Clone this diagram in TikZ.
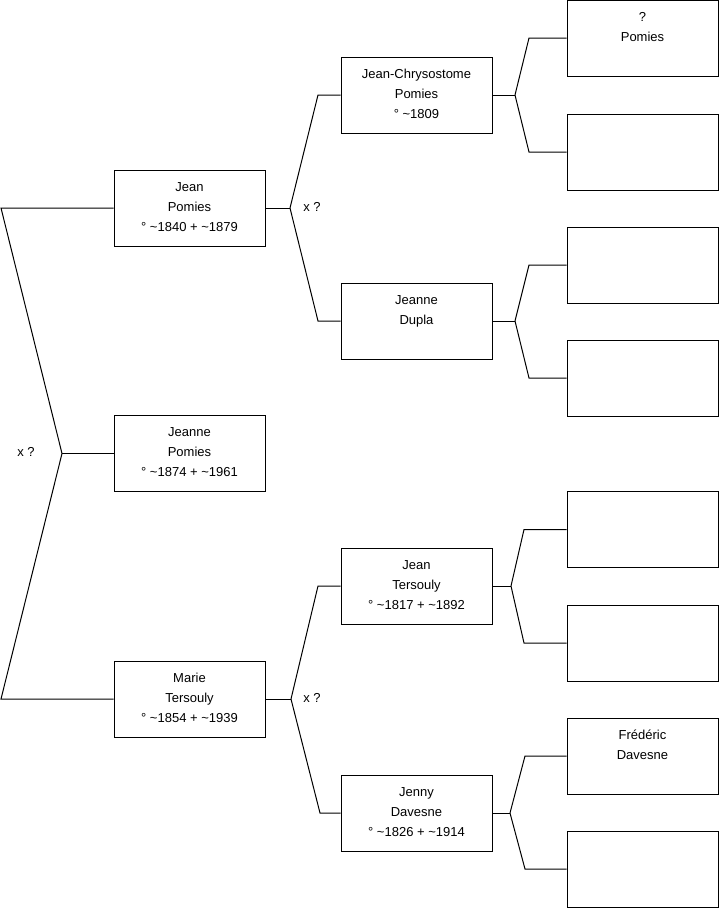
\documentclass[tikz,border=0pt]{standalone}
\usepackage{fontspec}
\setmainfont{Liberation Sans}
\newcommand{\fiche}[1]{\parbox[c][64pt][t]{145pt}{\centering\rule{0pt}{15pt}#1}}
\tikzset{
  fiche/.style={draw, rectangle, minimum width=151pt, minimum height=76pt,
    inner sep=0pt, font=\fontsize{13}{20}\selectfont},
  union/.style={font=\fontsize{13}{14}\selectfont, inner sep=0pt}
}
\begin{document}
\begin{tikzpicture}[x=1pt, y=-1pt, line width=1pt]
  \useasboundingbox (0,0) rectangle (719,908);
  % generation 0 and 1
  \node[fiche] (p1) at (189.5,453.5) {\fiche{Jeanne\\Pomies\\° \textasciitilde1874 + \textasciitilde1961}};
  \node[fiche] (p2) at (189.5,208) {\fiche{Jean\\Pomies\\° \textasciitilde1840 + \textasciitilde1879}};
  \node[fiche] (p3) at (189.5,699) {\fiche{Marie\\Tersouly\\° \textasciitilde1854 + \textasciitilde1939}};
  % generation 2
  \node[fiche] (p4) at (416.5,95) {\fiche{Jean-Chrysostome\\Pomies\\° \textasciitilde1809}};
  \node[fiche] (p5) at (416.5,321) {\fiche{Jeanne\\Dupla}};
  \node[fiche] (p6) at (416.5,586) {\fiche{Jean\\Tersouly\\° \textasciitilde1817 + \textasciitilde1892}};
  \node[fiche] (p7) at (416.5,813) {\fiche{Jenny\\Davesne\\° \textasciitilde1826 + \textasciitilde1914}};
  % generation 3
  \node[fiche] (p8) at (642.5,38) {\fiche{?\\Pomies}};
  \node[fiche] (p9) at (642.5,152) {};
  \node[fiche] (p10) at (642.5,265) {};
  \node[fiche] (p11) at (642.5,378) {};
  \node[fiche] (p12) at (642.5,529.5) {};
  \node[fiche] (p13) at (642.5,643) {};
  \node[fiche] (p14) at (642.5,756) {\fiche{Frédéric\\Davesne}};
  \node[fiche] (p15) at (642.5,869) {};
  % unions
  \node[union] (u1) at (26,452) {x ?};
  \node[union] (u2) at (312,207) {x ?};
  \node[union] (u3) at (312,698) {x ?};
  % forks
  \coordinate (f1) at (62,453.5);
  \coordinate (e2) at (1,208);
  \coordinate (e3) at (1,699);
  \coordinate (f2) at (290,208);
  \coordinate (e4) at (318,95);
  \coordinate (e5) at (318,321);
  \coordinate (f3) at (291,699);
  \coordinate (e6) at (318,586);
  \coordinate (e7) at (320,813);
  \coordinate (f4) at (515,95);
  \coordinate (e8) at (529,38);
  \coordinate (e9) at (529,152);
  \coordinate (f5) at (515,321);
  \coordinate (e10) at (529,265);
  \coordinate (e11) at (529,378);
  \coordinate (f6) at (511,586);
  \coordinate (e12) at (524,529.5);
  \coordinate (e13) at (524,643);
  \coordinate (f7) at (510,813);
  \coordinate (e14) at (525,756);
  \coordinate (e15) at (525,869);
  \begin{scope}[-]
    \draw (p1) -- (f1);
    \draw (f1) -- (e2) -- (p2);
    \draw (f1) -- (e3) -- (p3);
    \draw (p2) -- (f2);
    \draw (f2) -- (e4) -- (p4);
    \draw (f2) -- (e5) -- (p5);
    \draw (p3) -- (f3);
    \draw (f3) -- (e6) -- (p6);
    \draw (f3) -- (e7) -- (p7);
    \draw (p4) -- (f4);
    \draw (f4) -- (e8) -- (p8);
    \draw (f4) -- (e9) -- (p9);
    \draw (p5) -- (f5);
    \draw (f5) -- (e10) -- (p10);
    \draw (f5) -- (e11) -- (p11);
    \draw (p6) -- (f6);
    \draw (f6) -- (e12) -- (p12);
    \draw (f6) -- (e13) -- (p13);
    \draw (p7) -- (f7);
    \draw (f7) -- (e14) -- (p14);
    \draw (f7) -- (e15) -- (p15);
  \end{scope}
\end{tikzpicture}
\end{document}
